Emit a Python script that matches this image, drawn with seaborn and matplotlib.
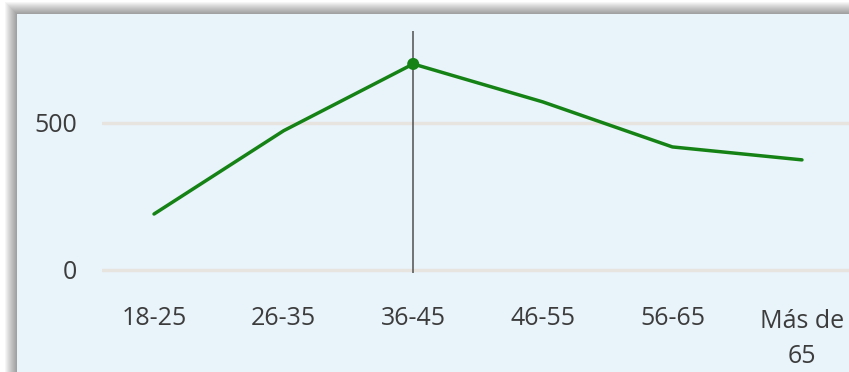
import matplotlib
matplotlib.use("Agg")
import matplotlib.pyplot as plt
import matplotlib.transforms as mtransforms
from matplotlib.patches import Rectangle
import pandas as pd
import seaborn as sns

age_groups = ["18-25", "26-35", "36-45", "46-55", "56-65", "Más de\n65"]
counts = [190, 473, 700, 571, 418, 374]
y_ticks = [0, 500]
highlight = "36-45"

sns.set_theme(style="white")
plt.rcParams["font.family"] = ["Open Sans", "DejaVu Sans"]

W, H = 849, 372
fig = plt.figure(figsize=(W / 100, H / 100), dpi=100)
fig.patch.set_facecolor("white")


def px_rect(x0, y0, x1, y1, **kw):
    """Rectangle given in pixel coordinates measured from the top-left corner."""
    return Rectangle((x0 / W, 1 - y1 / H), (x1 - x0) / W, (y1 - y0) / H,
                     transform=fig.transFigure, **kw)


# soft drop shadow on the left and top of the card
for k in range(1, 13):
    fig.patches.append(px_rect(17 - k, 14 - k, W + 20, H + 20,
                               facecolor="black", edgecolor="none", alpha=0.035, zorder=0))
fig.patches.append(px_rect(17, 14, W + 20, H + 20,
                           facecolor="#e9f3fa", edgecolor="none", zorder=1))

df = pd.DataFrame({"age": age_groups, "count": counts})

ax = fig.add_axes([102.2 / W, 1 - 273 / H, 751.6 / W, (273 - 31) / H])
ax.set_facecolor("none")
ax.set_zorder(2)

sns.lineplot(data=df, x="age", y="count", ax=ax, color="#158215",
             linewidth=2.5, sort=False, zorder=3)

hi = df[df["age"] == highlight]
ax.axvline(age_groups.index(highlight), color="#505050", linewidth=1.1, zorder=2)
sns.scatterplot(data=hi, x="age", y="count", ax=ax, color="#158215",
                s=75, edgecolor="none", zorder=4, legend=False)

ax.set_xlim(-0.4, len(age_groups) - 0.6)
ax.set_ylim(-10.5, 812)
ax.set_yticks(y_ticks)
for yv in y_ticks:
    ax.axhline(yv, color="#e7e4e0", linewidth=2.4, zorder=1)

ax.grid(False)
for s in ax.spines.values():
    s.set_visible(False)
ax.tick_params(axis="both", length=0, labelsize=18, labelcolor="#3c3c3c")
ax.tick_params(axis="y", pad=18)
ax.tick_params(axis="x", pad=23.5)
for lbl in ax.get_xticklabels():
    lbl.set_linespacing(1.56)
    if "\n" in lbl.get_text():
        lbl.set_transform(lbl.get_transform() +
                          mtransforms.ScaledTranslation(0, -3 / 100, fig.dpi_scale_trans))
ax.set_xlabel("")
ax.set_ylabel("")

fig.savefig("out.png", dpi=100)
